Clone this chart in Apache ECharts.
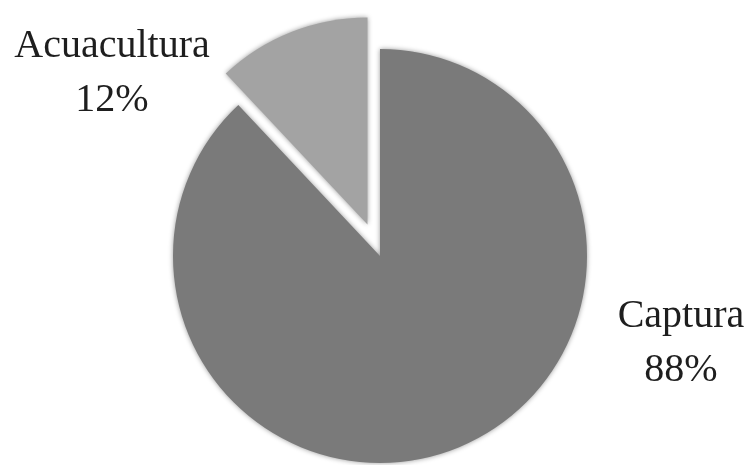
<!DOCTYPE html>
<html>
<head>
<meta charset="utf-8">
<script src="https://cdn.jsdelivr.net/npm/echarts@6/dist/echarts.min.js"></script>
<style>
  html, body { margin: 0; padding: 0; background: #ffffff; }
  #chart { width: 752px; height: 465px; }
</style>
</head>
<body>
<div id="chart"></div>
<script>
// Share of production by origin (percent)
const categories = ['Captura', 'Acuacultura'];
const shares = [88, 12];
const sliceColors = ['#7a7a7a', '#a3a3a3'];

// Label anchor points (block centres) for each slice
const labelAnchors = [
  { x: 681, y: 343 },
  { x: 112, y: 73 }
];

const chart = echarts.init(document.getElementById('chart'), null, { renderer: 'canvas' });

const data = categories.map((name, i) => ({
  name: name,
  value: shares[i],
  selected: name === 'Acuacultura',
  itemStyle: { color: sliceColors[i] }
}));

const labelFont = '"Liberation Serif", "DejaVu Serif", serif';

const labels = categories.map((name, i) => ({
  type: 'text',
  x: labelAnchors[i].x,
  y: labelAnchors[i].y,
  style: {
    text: name + '\n' + shares[i] + '%',
    fontFamily: labelFont,
    fontSize: 40,
    lineHeight: 54,
    fill: '#1e1e1e',
    align: 'center',
    verticalAlign: 'middle'
  }
}));

chart.setOption({
  animation: false,
  backgroundColor: '#ffffff',
  series: [{
    type: 'pie',
    center: [380, 256],
    radius: 207,
    startAngle: 90,
    clockwise: true,
    selectedMode: 'single',
    selectedOffset: 34,
    itemStyle: {
      shadowBlur: 5,
      shadowColor: 'rgba(0,0,0,0.4)'
    },
    label: { show: false },
    labelLine: { show: false },
    emphasis: { disabled: true },
    data: data
  }],
  graphic: labels
});
</script>
</body>
</html>
